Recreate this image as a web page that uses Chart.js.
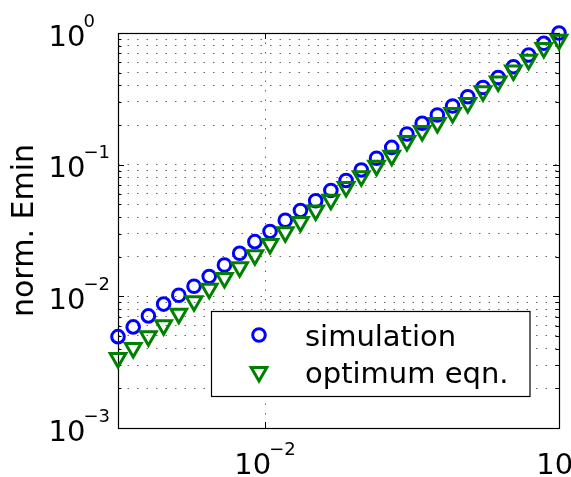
<!DOCTYPE html>
<html>
<head>
<meta charset="utf-8">
<script src="https://cdn.jsdelivr.net/npm/chart.js@4.4.1/dist/chart.umd.min.js"></script>
<style>
  html, body { margin: 0; padding: 0; background: #fff; }
  #wrap { width: 571px; height: 477px; position: relative; }
</style>
</head>
<body>
<div id="wrap"><canvas id="chartLog"></canvas></div>
<script>
// ---- data ----
const xValues = [0.003162, 0.003562, 0.004012, 0.004520, 0.005091, 0.005735, 0.006460, 0.007278,
  0.008199, 0.009237, 0.01040, 0.01172, 0.01320, 0.01487, 0.01675, 0.01887, 0.02126, 0.02395,
  0.02698, 0.03039, 0.03424, 0.03857, 0.04345, 0.04894, 0.05513, 0.06211, 0.06996, 0.07881,
  0.08878, 0.1000]
const simulation = [0.00494, 0.00586, 0.00710, 0.00873, 0.01019, 0.01193, 0.01416, 0.01730,
  0.02123, 0.02601, 0.03111, 0.03784, 0.04488, 0.05321, 0.06370, 0.07586, 0.09120, 0.1119,
  0.1352, 0.1710, 0.2061, 0.2383, 0.2790, 0.3281, 0.3855, 0.4592, 0.5546, 0.6808, 0.8356, 1.000]
const optimumEqn = [0.00340, 0.00406, 0.00498, 0.00604, 0.00739, 0.00918, 0.01143, 0.01380,
  0.01663, 0.02051, 0.02500, 0.03069, 0.03673, 0.04487, 0.05420, 0.06776, 0.08166, 0.09817,
  0.1170, 0.1514, 0.1803, 0.2075, 0.2470, 0.2938, 0.3606, 0.4285, 0.5189, 0.6266, 0.7691, 0.8892]

const seriesNames = ['simulation', 'optimum eqn.']
const yTitle = 'norm. Emin'

// axis limits and ticks (labels are 10^exp)
const xMin = 0.003162, xMax = 0.1
const yMin = 0.001, yMax = 1
const xMajorTicks = [0.01, 0.1]
const xTickExps = ['\u22122', '\u22121']
const yMajorTicks = [0.001, 0.01, 0.1, 1]
const yTickExps = ['\u22123', '\u22122', '\u22121', '0']

// minor grid on y: 2..9 within each decade
let yGrid = []
for (let i = 0; i < yMajorTicks.length; i++) {
  yGrid.push(yMajorTicks[i])
  if (i < yMajorTicks.length - 1) {
    for (let k = 2; k <= 9; k++) yGrid.push(+(yMajorTicks[i] * k).toPrecision(3))
  }
}

const FONT = '"DejaVu Sans", sans-serif'
const BLUE = '#0000ff'
const GREEN = '#008000'

const drawMarker = (ctx, style, x, y, r) => {
  ctx.beginPath()
  if (style === 'circle') {
    ctx.arc(x, y, r, 0, Math.PI * 2)
  } else {
    // downward triangle, same geometry as chart.js triangle rotated 180
    ctx.moveTo(x, y + r)
    ctx.lineTo(x - 0.866 * r, y - 0.5 * r)
    ctx.lineTo(x + 0.866 * r, y - 0.5 * r)
    ctx.closePath()
  }
  ctx.stroke()
}

const matlabAxes = {
  id: 'matlabAxes',
  beforeDatasetsDraw(chart) {
    const { ctx, chartArea: a, scales: { x, y } } = chart
    ctx.save()
    ctx.strokeStyle = '#000'
    ctx.lineWidth = 1
    ctx.beginPath()
    // y ticks, inside on both sides
    yGrid.forEach(v => {
      const py = Math.round(y.getPixelForValue(v)) + 0.5
      const len = yMajorTicks.includes(v) ? 6 : 3.5
      ctx.moveTo(a.left, py); ctx.lineTo(a.left + len, py)
      ctx.moveTo(a.right, py); ctx.lineTo(a.right - len, py)
    })
    xMajorTicks.forEach(v => {
      const px = Math.round(x.getPixelForValue(v)) + 0.5
      ctx.moveTo(px, a.bottom); ctx.lineTo(px, a.bottom - 6)
      ctx.moveTo(px, a.top); ctx.lineTo(px, a.top + 6)
    })
    ctx.stroke()
    // box
    ctx.lineWidth = 1.2
    ctx.strokeRect(Math.round(a.left) + 0.5, Math.round(a.top) + 0.5,
      Math.round(a.right - a.left), Math.round(a.bottom - a.top))

    // tick labels
    ctx.fillStyle = '#000'
    ctx.textBaseline = 'alphabetic'
    ctx.textAlign = 'left'
    yMajorTicks.forEach((v, i) => {
      const py = y.getPixelForValue(v)
      ctx.font = '29px ' + FONT
      const w10 = ctx.measureText('10').width
      ctx.fillText('10', 48.5, py + 12.5)
      ctx.font = '18px ' + FONT
      ctx.fillText(yTickExps[i], 48.5 + w10 - 2, py - 6.5)
    })
    xMajorTicks.forEach((v, i) => {
      const px = x.getPixelForValue(v)
      ctx.font = '29px ' + FONT
      const w10 = ctx.measureText('10').width
      ctx.font = '18px ' + FONT
      const wExp = ctx.measureText(xTickExps[i]).width
      // the last label runs off the right edge of the figure
      const shift = i === xMajorTicks.length - 1 ? 8 : 0
      const start = px - (w10 - 2 + wExp) / 2 + shift
      ctx.font = '29px ' + FONT
      ctx.fillText('10', start, 474)
      ctx.font = '18px ' + FONT
      ctx.fillText(xTickExps[i], start + w10 - 2, 455)
    })

    // y axis title
    ctx.save()
    ctx.translate(33, (a.top + a.bottom) / 2)
    ctx.rotate(-Math.PI / 2)
    ctx.textAlign = 'center'
    ctx.font = '30px ' + FONT
    ctx.fillText(yTitle, 0, 0)
    ctx.restore()
    ctx.restore()
  },
  afterDatasetsDraw(chart) {
    const { ctx } = chart
    ctx.save()
    // legend box
    ctx.fillStyle = '#fff'
    ctx.fillRect(211.5, 311.5, 318.5, 85)
    ctx.strokeStyle = '#000'
    ctx.lineWidth = 1.2
    ctx.strokeRect(211.5, 311.5, 318.5, 85)
    // markers
    ctx.lineWidth = 3
    ctx.strokeStyle = BLUE
    drawMarker(ctx, 'circle', 259, 335, 6.3)
    ctx.strokeStyle = GREEN
    drawMarker(ctx, 'triangle', 259, 372, 9)
    // labels
    ctx.fillStyle = '#000'
    ctx.font = '29px ' + FONT
    ctx.textAlign = 'left'
    ctx.textBaseline = 'alphabetic'
    ctx.fillText(seriesNames[0], 305, 345.5)
    ctx.fillText(seriesNames[1], 305, 382.5)
    ctx.restore()
  }
}

const gridStyle = { color: 'rgba(0,0,0,0.6)', lineWidth: 1, drawTicks: false }

const ctx = document.getElementById('chartLog').getContext('2d')
const chart = new Chart(ctx, {
  type: 'scatter',
  data: {
    datasets: [
      {
        label: seriesNames[0],
        data: xValues.map((v, i) => ({ x: v, y: simulation[i] })),
        pointStyle: 'circle',
        pointRadius: 6.3,
        pointBorderWidth: 3,
        borderColor: BLUE,
        backgroundColor: 'rgba(0,0,0,0)',
        showLine: false,
        clip: false,
        order: 2
      },
      {
        label: seriesNames[1],
        data: xValues.map((v, i) => ({ x: v, y: optimumEqn[i] })),
        pointStyle: 'triangle',
        pointRotation: 180,
        pointRadius: 9,
        pointBorderWidth: 3,
        borderColor: GREEN,
        backgroundColor: 'rgba(0,0,0,0)',
        showLine: false,
        clip: false,
        order: 1
      }
    ]
  },
  options: {
    responsive: true,
    maintainAspectRatio: false,
    animation: false,
    events: [],
    layout: { padding: { top: 33, right: 10, left: 0, bottom: 0 } },
    plugins: {
      legend: { display: false },
      tooltip: { enabled: false }
    },
    scales: {
      x: {
        type: 'logarithmic',
        min: xMin,
        max: xMax,
        ticks: { display: false },
        grid: gridStyle,
        border: { display: false, dash: [1.5, 8] },
        afterBuildTicks: (scale) => { scale.ticks = [{ value: 0.01 }] },
        afterFit: (scale) => { scale.height = 49 }
      },
      y: {
        type: 'logarithmic',
        min: yMin,
        max: yMax,
        ticks: { display: false },
        grid: gridStyle,
        border: { display: false, dash: [1.5, 8] },
        afterBuildTicks: (scale) => { scale.ticks = yGrid.map(v => ({ value: v })) },
        afterFit: (scale) => { scale.height = undefined; scale.width = 118 }
      }
    }
  },
  plugins: [matlabAxes]
})
</script>
</body>
</html>
